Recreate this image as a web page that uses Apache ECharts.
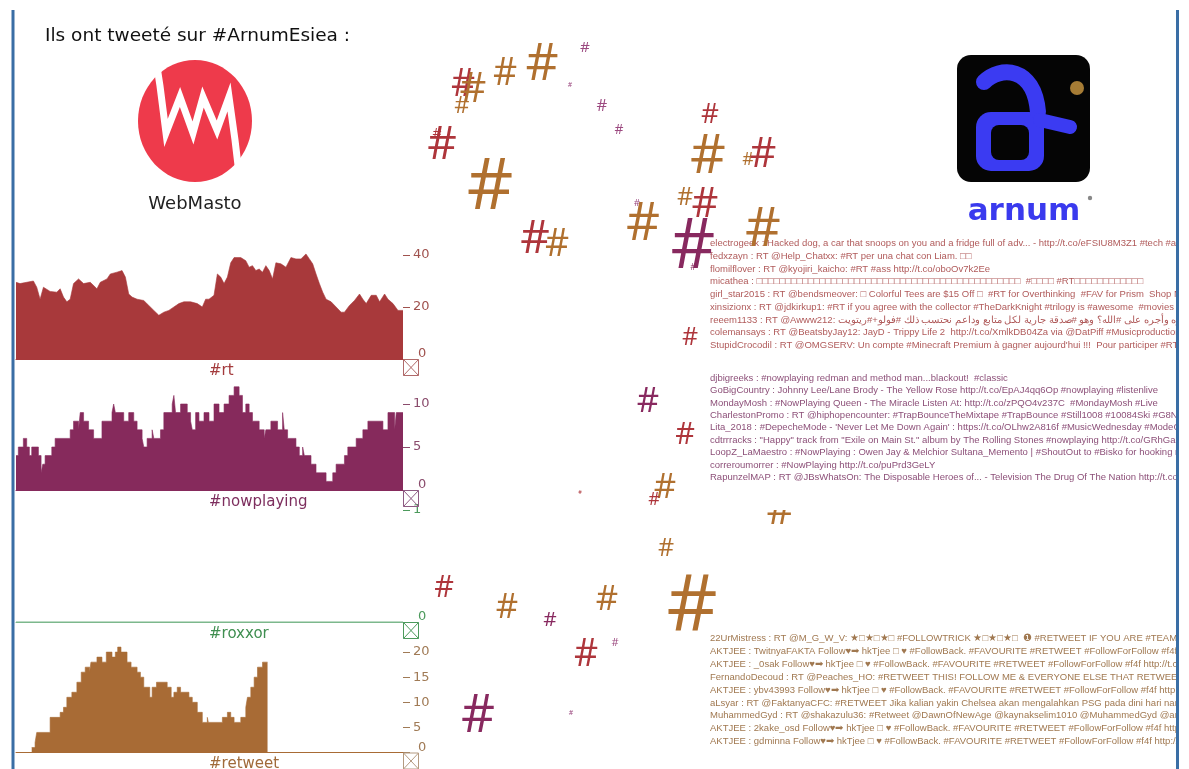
<!DOCTYPE html>
<html><head><meta charset="utf-8">
<script src="https://cdn.jsdelivr.net/npm/echarts@6/dist/echarts.min.js"></script>
<style>html,body{margin:0;padding:0;background:#fff}#c{width:1189px;height:769px}</style>
</head><body><div id="c"></div>
<script>
// ---- data: [time, count] ----
const rtSeries = [[0,29.5],[1.2,29],[3.2,29.5],[5.2,30],[6.2,27.6],[7.2,23],[8.2,27.6],[10.2,26],[12.2,25.7],[13.2,27],[14.2,23.8],[15.2,22],[16.2,23],[17.2,29],[18.7,30.8],[20.2,29],[22.2,29.5],[24.2,27],[25.2,29.5],[27.2,30.8],[28.2,32.7],[30.2,33.4],[31.7,34],[32.7,31.5],[33.7,25],[34.7,23.8],[36.2,23],[38.2,22.5],[39.7,20.6],[41.2,18.7],[42.7,16.8],[44.2,18],[45.7,18.7],[47.2,20],[48.7,21.3],[50.2,22],[52.2,22],[54.2,21.3],[55.7,20],[56.7,23],[57.7,23],[59.2,24.5],[60.2,32.7],[61.2,31.5],[62.2,29],[63.2,31.5],[64.2,37],[65.2,39],[67.2,39],[68.7,37.8],[69.7,35.3],[70.7,35.9],[71.7,34],[72.7,34.6],[73.7,33.4],[74.7,35.9],[75.7,34],[76.7,30.8],[77.7,37],[79.2,36.6],[80.7,35.3],[82.2,39],[83.7,38.5],[85.2,38.5],[86.7,40.4],[87.7,38.5],[88.7,36.6],[89.7,32.7],[90.7,29],[91.7,25.7],[92.7,23],[94.2,22],[95.7,20],[97.2,18],[98.2,18],[99.7,20.6],[101.2,22.5],[102.7,25],[103.7,23],[104.7,21.3],[106.2,24.5],[107.7,24.5],[108.7,22],[110.2,25],[111.2,23],[112.7,21.3],[114.2,18.7],[115.7,18.7]];
const nowplayingSeries = [[0,4],[0.7,5],[2.2,6],[3.2,5],[4,4],[4.7,5],[6.7,4],[7.5,2],[8,3],[8.7,4],[10.7,5],[11.7,6],[16.2,7],[17.2,8],[18.7,7],[19.2,9],[20.2,8],[21.7,7],[23.2,6],[25.7,8],[28.7,9],[29.2,10],[29.7,9],[32.2,8],[33.7,9],[35.2,8],[36.2,7],[37.7,6],[38.2,5],[39.2,6],[40.7,7],[41.2,6],[43.2,7],[44.2,9],[46.7,10],[47.2,11],[47.7,9],[49.2,10],[51.2,9],[52.2,8],[52.7,7],[53.7,9],[54.7,8],[56.2,9],[57.7,8],[59.2,10],[60.7,9],[62.2,10],[63.7,11],[65.2,12],[66.7,11],[67.7,9],[68.7,10],[69.7,9],[70.7,8],[72.7,7],[74.2,6],[74.7,7],[76.2,8],[78.2,7],[79.7,9],[80.2,7],[81.2,6],[83.7,5],[84.7,4],[85.7,5],[86.2,4],[88.2,3],[89.7,2],[92.7,1],[94.7,2],[95.7,3],[98.2,4],[99.2,5],[101.7,6],[103.7,7],[105.2,8],[109.7,7],[111.2,9],[113.2,7],[113.7,9],[115.7,9]];
const roxxorSeries = [[0,0],[115.7,0]];
const retweetSeries = [[4.7,1],[5.7,2],[6.2,4],[10.2,7],[13.2,8],[14.2,9],[15.2,11],[16.7,12],[18.2,14],[19.5,16],[20.7,17],[22,16],[22.4,18],[23.2,18],[24.2,19],[25.7,18],[27,20],[28.7,19],[29.7,20],[30.4,21],[31.4,20],[33.2,18],[34.4,17],[36.2,16],[37.2,15],[38.2,13],[40,11],[40.7,13],[42,14],[45.2,13],[46.4,11],[47.2,12],[48.2,13],[49.2,12],[51.7,11],[52.7,10],[54.2,8],[55.7,6],[57.2,7],[57.5,6],[61.7,7],[63.2,8],[64.2,7],[65.2,6],[67.2,7],[68.7,9],[69.2,11],[70.2,13],[71.2,15],[72.2,17],[73.7,18],[75.2,18]];
const chartNames = ['#rt','#nowplaying','#roxxor','#retweet'];
// hashtag cloud: [x, y, glyph height, topic]
const hashX = [585,463,473,462,505,542,570,602,619,442,437,490,535,557,710,708,748,763,637,685,705,643,693,763,693,690,648,685,665,654,666,580,780,444,507,550,607,586,615,692,478,571];
const hashY = [48,85,90,106,74,65,85,106,130,146,134,188,240,245,115,157,160,155,203,198,205,225,248,230,268,338,402,435,488,500,549,492,512,588,608,620,600,655,643,608,717,713];
const hashH = [11,27,30,17,27,37,5,12,10,33,10,52,33,27,20,40,13,30,7,18,30,38,50,40,6,18,25,22,25,13,18,4,30,22,25,15,25,27,8,57,38,5];
const hashTopic = ['m','r','b','b','b','b','m','m','m','r','r','b','r','b','r','b','b','r','m','b','r','b','p','b','p','r','p','r','b','r','b','r','b','r','b','p','b','r','m','b','p','m'];
const rtFeed = [
"electrogeek : Hacked dog, a car that snoops on you and a fridge full of adv... - http://t.co/eFSIU8M3Z1 #tech #apple #gadgets",
"fedxzayn : RT @Help_Chatxx: #RT per una chat con Liam. □□",
"flomilflover : RT @kyojiri_kaicho: #RT #ass http://t.co/oboOv7k2Ee",
"micathea : □□□□□□□□□□□□□□□□□□□□□□□□□□□□□□□□□□□□□□□□□□□□□□  #□□□□ #RT□□□□□□□□□□□□",
"girl_star2015 : RT @bendsmeover: □ Colorful Tees are $15 Off □  #RT for Overthinking  #FAV for Prism  Shop Now ➡□ http",
"xinsizionx : RT @jdkirkup1: #RT if you agree with the collector #TheDarkKnight #trilogy is #awesome  #movies #Batman #DC",
"reeem1133 : RT @Awww212: ساهم في نشره وأجره على #الله؟ وهو #صدقة جارية لكل متابع وداعم نحتسب ذلك #فولو+#ريتويت ●●",
"colemansays : RT @BeatsbyJay12: JayD - Trippy Life 2  http://t.co/XmlkDB04Za via @DatPiff #Musicproduction #musicproducer",
"StupidCrocodil : RT @OMGSERV: Un compte #Minecraft Premium à gagner aujourd'hui !!!  Pour participer #RT ➜ https://t.co"];
const nowplayingFeed = [
"djbigreeks : #nowplaying redman and method man...blackout!  #classic",
"GoBigCountry : Johnny Lee/Lane Brody - The Yellow Rose http://t.co/EpAJ4qq6Op #nowplaying #listenlive",
"MondayMosh : #NowPlaying Queen - The Miracle Listen At: http://t.co/zPQO4v237C  #MondayMosh #Live",
"CharlestonPromo : RT @hiphopencounter: #TrapBounceTheMixtape #TrapBounce #Still1008 #10084Ski #G8NG I got this mixtape",
"Lita_2018 : #DepecheMode - 'Never Let Me Down Again' : https://t.co/OLhw2A816f #MusicWednesday #ModeOn #DM #NowPlaying",
"cdtrrracks : \"Happy\" track from \"Exile on Main St.\" album by The Rolling Stones #nowplaying http://t.co/GRhGam4wY2",
"LoopZ_LaMaestro : #NowPlaying : Owen Jay & Melchior Sultana_Memento | #ShoutOut to #Bisko for hooking me up with this",
"correroumorrer : #NowPlaying http://t.co/puPrd3GeLY",
"RapunzelMAP : RT @JBsWhatsOn: The Disposable Heroes of... - Television The Drug Of The Nation http://t.co/Ge1zGsFXur"];
const retweetFeed = [
"22UrMistress : RT @M_G_W_V: ★□★□★□ #FOLLOWTRICK ★□★□★□  ❶ #RETWEET IF YOU ARE #TEAMFOLLOWBACK  ❷ GAIN",
"AKTJEE : TwitnyaFAKTA Follow♥➡ hkTjee □ ♥ #FollowBack. #FAVOURITE #RETWEET #FollowForFollow #f4f http://t.co/XMPj3sz9dF",
"AKTJEE : _0sak Follow♥➡ hkTjee □ ♥ #FollowBack. #FAVOURITE #RETWEET #FollowForFollow #f4f http://t.co/XMPj3sz9dF",
"FernandoDecoud : RT @Peaches_HO: #RETWEET THIS! FOLLOW ME & EVERYONE ELSE THAT RETWEETS THIS FOR 50+ FOLLOWERS",
"AKTJEE : ybv43993 Follow♥➡ hkTjee □ ♥ #FollowBack. #FAVOURITE #RETWEET #FollowForFollow #f4f http://t.co/XMPj3sz9dF",
"aLsyar : RT @FaktanyaCFC: #RETWEET Jika kalian yakin Chelsea akan mengalahkan PSG pada dini hari nanti! http://t.co/GBx",
"MuhammedGyd : RT @shakazulu36: #Retweet @DawnOfNewAge @kaynakselim1010 @MuhammedGyd @angelyawara @prince",
"AKTJEE : 2kake_osd Follow♥➡ hkTjee □ ♥ #FollowBack. #FAVOURITE #RETWEET #FollowForFollow #f4f http://t.co/XMPj3sz9dF",
"AKTJEE : gdminna Follow♥➡ hkTjee □ ♥ #FollowBack. #FAVOURITE #RETWEET #FollowForFollow #f4f http://t.co/XMPj3sz9dF"];

// ---- styling / layout ----
const FONT = 'DejaVu Sans';
const FEEDFONT = '"Liberation Sans",sans-serif';
const fill = ['#a8393b','#862a5c','#7db88c','#a86b35'];
const labelCol = ['#a0524e','#8a4b6c','#4c9a5c','#a07a55'];
const nameCol = ['#a33a3c','#7d2e5e','#3f8e50','#a06a3a'];
const boxCol = ['#b06a6a','#8e5a82','#4c9a5c','#b49a80'];
const hashCol = {r:'#ae353b', b:'#b0702f', p:'#88295f', m:'#9c4a80'};
const grids = [
  {top:255, height:104, max:40, interval:20},
  {top:404, height:86, max:10, interval:5},
  {top:510, height:112, max:1, interval:1},
  {top:652.1, height:100.4, max:20, interval:5}
];
const seriesData = [rtSeries, nowplayingSeries, roxxorSeries, retweetSeries];
const X0 = 16, W = 387;

const option = {
  animation:false,
  grid: grids.map(g=>({left:X0, top:g.top, width:W, height:g.height})).concat([{left:0,top:0,width:1189,height:769}]),
  xAxis: grids.map((g,i)=>({gridIndex:i, type:'value', min:0, max:115.7,
      axisLine:{show:true, lineStyle:{color:fill[i], width:1}}, axisTick:{show:false}, axisLabel:{show:false}, splitLine:{show:false}}))
    .concat([{gridIndex:4, type:'value', min:0, max:1189, show:false}]),
  yAxis: grids.map((g,i)=>({gridIndex:i, type:'value', position:'right', min:0, max:g.max, interval:g.interval,
      axisLine:{show:false, onZero:false}, splitLine:{show:false},
      axisTick:{show:true, length:7, lineStyle:{color:labelCol[i]}},
      axisLabel:{show:true, margin:10, color:labelCol[i], fontFamily:FONT, fontSize:13,
        formatter: v => v===0 ? '{z|0}' : String(v),
        rich:{z:{color:labelCol[i], fontFamily:FONT, fontSize:13, padding:[0,0,10,5]}}}}))
    .concat([{gridIndex:4, type:'value', min:0, max:769, inverse:true, show:false}]),
  series: seriesData.map((d,i)=>({
      type:'line', xAxisIndex:i, yAxisIndex:i, data:d, step: i===0 ? false : 'end',
      showSymbol:false, symbol:'none', z:2, clip:false,
      lineStyle:{color:fill[i], width:i===2?1.2:0.6},
      areaStyle: i===2 ? undefined : {color:fill[i], opacity:1}
  })).concat([{
      type:'scatter', xAxisIndex:4, yAxisIndex:4, symbol:'circle', symbolSize:1, z:5,
      itemStyle:{color:'rgba(0,0,0,0)', opacity:1},
      label:{show:true, position:'inside', formatter:'#', fontFamily:'"Open Sans"', opacity:1, textBorderWidth:0},
      labelLayout:{hideOverlap:false},
      data: hashX.map((x,k)=>({value:[x, hashY[k]],
         label:{fontSize: Math.max(5, hashH[k]/0.72), color: hashCol[hashTopic[k]]}}))
  }]),
  graphic: []
};

const G = option.graphic;
// frame borders
G.push({type:'rect', shape:{x:1176,y:0,width:13,height:769}, style:{fill:'#fff'}, z:50});
G.push({type:'line', shape:{x1:13,y1:10,x2:13,y2:769}, style:{stroke:'#3a6ea5', lineWidth:3}, z:51});
G.push({type:'line', shape:{x1:1177.5,y1:10,x2:1177.5,y2:769}, style:{stroke:'#3a6ea5', lineWidth:3}, z:51});
// title
G.push({type:'text', x:45, y:36, style:{text:'Ils ont tweeté sur #ArnumEsiea :', fontFamily:FONT, fontSize:18.5, fill:'#111', verticalAlign:'middle'}, z:1});
// WebMasto logo
G.push({type:'ellipse', shape:{cx:195, cy:121, rx:57, ry:61}, style:{fill:'#ee3a4b'}, z:1});
G.push({type:'polyline', shape:{points:[[156,60],[160,86],[166,133],[180,97],[193,133],[203,97],[217,130],[229,97],[235,140],[240,182]]},
        style:{stroke:'#fff', lineWidth:7, fill:null, lineJoin:'miter'}, z:2});
G.push({type:'text', x:195, y:204, style:{text:'WebMasto', fontFamily:FONT, fontSize:18, fill:'#222', align:'center', verticalAlign:'middle'}, z:1});
// arnum logo
G.push({type:'rect', shape:{x:957,y:55,width:133,height:127,r:14}, style:{fill:'#050505'}, z:1});
G.push({type:'rect', shape:{x:976,y:112,width:68,height:59,r:15}, style:{fill:'#3b3bf2'}, z:2});
G.push({type:'rect', shape:{x:991,y:125,width:38,height:35,r:8}, style:{fill:'#050505'}, z:3});
G.push({type:'bezierCurve', shape:{x1:984,y1:82,cpx1:1000,cpy1:66,cpx2:1034,cpy2:66,x2:1038,y2:112}, style:{stroke:'#3b3bf2', lineWidth:16, fill:null, lineCap:'round'}, z:2});
G.push({type:'line', shape:{x1:1040,y1:120,x2:1070,y2:127}, style:{stroke:'#3b3bf2', lineWidth:14, lineCap:'round'}, z:2});
G.push({type:'circle', shape:{cx:1077,cy:88,r:7}, style:{fill:'#a67c35'}, z:2});
G.push({type:'text', x:1024, y:212, style:{text:'arnum', fontFamily:FONT, fontWeight:'bold', fontSize:31, fill:'#3a3aee', align:'center', verticalAlign:'middle'}, z:1});
G.push({type:'circle', shape:{cx:1090,cy:198,r:2.2}, style:{fill:'#888'}, z:1});
// chart names and crossed boxes
const baseY = grids.map(g=>g.top+g.height);
chartNames.forEach((n,i)=>{
  G.push({type:'text', x:209, y:baseY[i]+12, style:{text:n, fontFamily:FONT, fontSize:15, fill:nameCol[i], verticalAlign:'middle'}, z:1});
  const bx=403.5, by=baseY[i]+0.5, bw=15, bh=16;
  G.push({type:'rect', shape:{x:bx,y:by,width:bw,height:bh}, style:{fill:null, stroke:boxCol[i], lineWidth:1}, z:1});
  G.push({type:'line', shape:{x1:bx,y1:by,x2:bx+bw,y2:by+bh}, style:{stroke:boxCol[i], lineWidth:1}, z:1});
  G.push({type:'line', shape:{x1:bx+bw,y1:by,x2:bx,y2:by+bh}, style:{stroke:boxCol[i], lineWidth:1}, z:1});
});
// tweet feeds
G.push({type:'text', x:710, y:237, style:{text:rtFeed.join('\n'), fontFamily:FEEDFONT, fontSize:9.5, lineHeight:12.75, fill:'#b05a5a'}, z:1});
G.push({type:'rect', shape:{x:702,y:366,width:474,height:144}, style:{fill:'#fff'}, z:10});
G.push({type:'text', x:710, y:372, style:{text:nowplayingFeed.join('\n'), fontFamily:FEEDFONT, fontSize:9.5, lineHeight:12.4, fill:'#8c4f78'}, z:11});
G.push({type:'text', x:710, y:632, style:{text:retweetFeed.join('\n'), fontFamily:FEEDFONT, fontSize:9.5, lineHeight:12.9, fill:'#a07850'}, z:11});

const chart = echarts.init(document.getElementById('c'), null, {renderer:'canvas'});
chart.setOption(option);
</script></body></html>
